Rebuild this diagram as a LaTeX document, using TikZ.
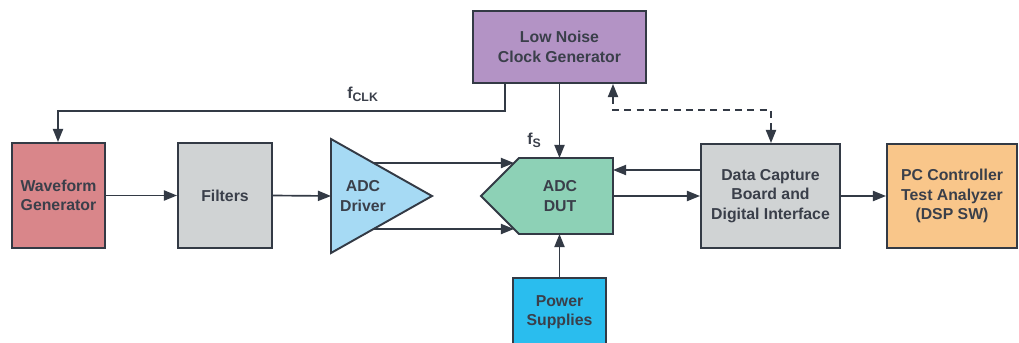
\documentclass[tikz,border=0pt]{standalone}
\usepackage{fontspec}
\setmainfont{Liberation Sans}
\usetikzlibrary{arrows.meta}
\definecolor{ln}{HTML}{333A45}
\definecolor{tx}{HTML}{3A3F4A}
\definecolor{wg}{HTML}{D9868A}
\definecolor{gr}{HTML}{D0D3D4}
\definecolor{drv}{HTML}{A6DAF4}
\definecolor{dut}{HTML}{8DD1B6}
\definecolor{clk}{HTML}{B393C5}
\definecolor{pc}{HTML}{F9C68A}
\definecolor{pw}{HTML}{2ABDEE}
\tikzset{
  box/.style={draw=ln,line width=1.1pt,rectangle,inner sep=0pt,align=center,text=tx,font=\fontsize{9}{11}\selectfont\bfseries},
  lbl/.style={text=tx,font=\fontsize{9}{11}\selectfont\bfseries,align=center,inner sep=0pt},
  conn/.style={draw=ln,line width=0.95pt,-{Triangle[length=7.5pt,width=5.8pt]}},
  dconn/.style={conn,dash pattern=on 4pt off 3pt,{Triangle[length=7.5pt,width=5.8pt]}-{Triangle[length=7.5pt,width=5.8pt]}}
}
\begin{document}
\begin{tikzpicture}[x=0.02cm,y=-0.02cm]
\useasboundingbox (0,0) rectangle (1019,342);
\clip (0,0) rectangle (1019,342);
% boxes
\node[box,fill=wg,minimum width=93*0.02cm,minimum height=105*0.02cm] (wgen) at (58.5,195.5) {Waveform\\Generator};
\node[box,fill=gr,minimum width=94*0.02cm,minimum height=105*0.02cm] (filt) at (225,195.5) {Filters};
\node[box,fill=clk,minimum width=173*0.02cm,minimum height=72*0.02cm] (clock) at (559.5,47) {Low Noise\\Clock Generator};
\node[box,fill=gr,minimum width=139*0.02cm,minimum height=104*0.02cm] (dcap) at (770.5,196) {Data Capture\\Board and\\Digital Interface};
\node[box,fill=pc,minimum width=130*0.02cm,minimum height=104*0.02cm] (pcc) at (952,196) {PC Controller\\Test Analyzer\\(DSP SW)};
\node[box,fill=pw,minimum width=93*0.02cm,minimum height=90*0.02cm,anchor=north] (pwr) at (559.5,277) {};
\node[lbl] (pwrt) at (559.5,312) {Power\\Supplies};
% driver triangle
\draw[ln,fill=drv,line width=1.1pt,line join=miter] (331,139) -- (432,196) -- (331,253) -- cycle;
\node[lbl] (drvt) at (363,196) {ADC\\Driver};
\coordinate (drvin) at (331,196);
\coordinate (drvo1) at (373,163);
\coordinate (drvo2) at (373,229);
% DUT pentagon
\draw[ln,fill=dut,line width=1.1pt] (481,196) -- (519,158) -- (613,158) -- (613,234) -- (519,234) -- cycle;
\node[lbl] (dutt) at (560,196) {ADC\\DUT};
\coordinate (dutin1) at (514,163);
\coordinate (dutin2) at (514,229);
\coordinate (duttop) at (559.5,158);
\coordinate (dutbot) at (559.5,234);
\coordinate (dutr1) at (613,170);
\coordinate (dutr2) at (613,196);
% connectors
\draw[conn] (wgen.east) -- (filt.west);
\draw[conn] (filt.east) -- (drvin);
\draw[conn] (drvo1) -- (dutin1);
\draw[conn] (drvo2) -- (dutin2);
\draw[conn] (clock.south -| 505,0) |- (58,111) -- (wgen.north -| 58,0);
\draw[conn] (clock.south) -- (duttop);
\draw[conn] (pwr.north) -- (dutbot);
\draw[conn] (dcap.west |- dutr1) -- (dutr1);
\draw[conn] (dutr2) -- (dcap.west |- dutr2);
\draw[conn] (dcap.east) -- (pcc.west);
\draw[dconn] (clock.south -| 613,0) |- (771,110) -- (dcap.north -| 771,0);
% labels
\node[lbl,anchor=base west] (fclk) at (347,98) {f\textsubscript{\fontsize{7}{8}\selectfont CLK}};
\node[lbl,anchor=base west] (fs) at (527,144) {f\textsubscript{\fontsize{7}{8}\selectfont S}};
\end{tikzpicture}
\end{document}
